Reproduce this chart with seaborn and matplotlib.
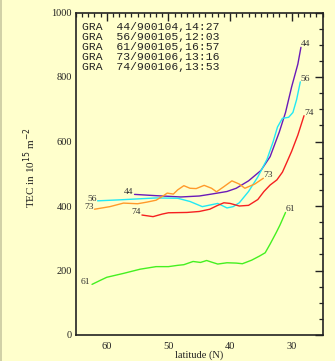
import numpy as np
import pandas as pd
import matplotlib
matplotlib.use("Agg")
import matplotlib.pyplot as plt
from matplotlib.ticker import MultipleLocator
import seaborn as sns

# ---- data ----
lat_44 = [55.5, 52.0, 48.0, 45.0, 43.0, 40.5, 39.0, 37.0, 35.0, 33.5, 32.0, 31.0, 30.0, 29.0, 28.5]
tec_44 = [436, 432, 428, 431, 437, 445, 455, 478, 510, 553, 630, 690, 770, 840, 892]

lat_56 = [61.5, 58.0, 55.0, 52.0, 48.5, 46.5, 44.5, 43.0, 42.0, 40.5, 39.5, 38.5, 37.0, 35.5, 34.0, 33.0, 32.3, 31.5, 30.5, 29.8, 29.2, 28.6]
tec_56 = [416, 419, 422, 425, 424, 414, 398, 404, 408, 394, 398, 410, 445, 490, 545, 600, 645, 672, 675, 690, 730, 785]

lat_61 = [62.4, 61.0, 60.0, 57.3, 54.6, 52.0, 50.0, 48.5, 47.5, 46.0, 44.8, 43.8, 43.0, 42.0, 40.5, 39.0, 38.0, 36.5, 35.2, 34.3, 33.5, 32.5, 31.9, 31.0]
tec_61 = [157, 170, 179, 191, 204, 212, 212, 216, 218, 228, 225, 231, 226, 220, 224, 223, 221, 232, 245, 255, 282, 318, 341, 380]

lat_73 = [62.0, 59.5, 57.3, 55.0, 53.5, 52.0, 50.8, 50.2, 49.2, 48.5, 47.5, 46.5, 45.5, 44.2, 43.0, 42.2, 41.0, 39.7, 38.5, 37.6, 36.0, 34.6]
tec_73 = [390, 398, 409, 407, 412, 418, 432, 440, 437, 450, 463, 455, 454, 464, 455, 444, 460, 478, 468, 455, 468, 486]

lat_74 = [54.3, 52.5, 51.0, 50.0, 47.0, 45.0, 43.3, 42.0, 41.0, 40.0, 38.5, 37.0, 35.5, 34.5, 33.5, 32.4, 31.5, 30.8, 30.0, 29.0, 28.0]
tec_74 = [372, 367, 375, 379, 380, 383, 390, 402, 410, 408, 400, 402, 420, 445, 465, 481, 505, 535, 570, 620, 680]

passes = ["44", "56", "61", "73", "74"]
legend_lines = ["GRA  44/900104,14:27", "GRA  56/900105,12:03", "GRA  61/900105,16:57",
                "GRA  73/900106,13:16", "GRA  74/900106,13:53"]
x_ticks = [60, 50, 40, 30]
y_ticks = [0, 200, 400, 600, 800, 1000]

colors = {"44": "#6a1ab8", "56": "#22e8f4", "61": "#44f020", "73": "#ff9a2a", "74": "#f52020"}

series = {"44": (lat_44, tec_44), "56": (lat_56, tec_56), "61": (lat_61, tec_61),
          "73": (lat_73, tec_73), "74": (lat_74, tec_74)}
rows = []
for p in passes:
    la, te = series[p]
    for i, (a, b) in enumerate(zip(la, te)):
        rows.append({"pass": p, "lat": a, "tec": b, "order": i})
df = pd.DataFrame(rows)

sns.set_theme(style="white")
bg = "#ffffcc"
plt.rcParams["font.family"] = ["Liberation Serif", "DejaVu Serif"]

fig = plt.figure(figsize=(3.35, 3.61), dpi=100, facecolor=bg)
ax = fig.add_axes([76 / 335, 1 - 335 / 361, 246.5 / 335, 322.5 / 361])
ax.set_facecolor(bg)

sns.lineplot(data=df, x="lat", y="tec", hue="pass", palette=colors, units="pass",
             estimator=None, sort=False, linewidth=1.0, legend=False, ax=ax)

ax.set_xlim(65, 25)
ax.set_ylim(0, 1000)
ax.set_xticks(x_ticks)
ax.set_yticks(y_ticks)
ax.xaxis.set_minor_locator(MultipleLocator(1))
ax.yaxis.set_minor_locator(MultipleLocator(50))
ax.tick_params(which="both", direction="in", top=True, right=True, colors="#222222",
               labelcolor="#222222", labelsize=7.5)
ax.tick_params(which="major", length=5.5, width=1.0)
ax.tick_params(which="minor", length=3, width=0.9)
ax.tick_params(axis="x", which="major", pad=5)
ax.tick_params(axis="y", which="major", pad=3)
for s in ax.spines.values():
    s.set_color("#222222")
    s.set_linewidth(1.2)

ax.set_xlabel("latitude (N)", fontsize=7.5, color="#222222", labelpad=-0.5)
ax.set_ylabel(r"TEC in 10$^{15}$ m$^{-2}$", fontsize=8, color="#222222", labelpad=16)
ax.yaxis.set_label_coords(-0.155, 0.52)

# legend text block
for i, t in enumerate(legend_lines):
    ypx = 27.3 + i * 9.85
    ax.text(0.024, 1 - (ypx - 12.5) / 322.5, t, transform=ax.transAxes,
            family=["Liberation Mono", "DejaVu Sans Mono"], fontsize=8.2,
            color="#222222", va="center", ha="left")

# pass labels at line ends
lab_kw = dict(textcoords="offset pixels", fontsize=6.8, color="#333333", va="center")
for p in passes:
    la, te = series[p]
    ax.annotate(p, (la[-1], te[-1]), xytext=(0, 3), ha="left", **lab_kw)
left_off = {"44": (-1, 2), "56": (-1, 2), "61": (-2, 2), "73": (-1, 2), "74": (-1, 3)}
for p in passes:
    la, te = series[p]
    ax.annotate(p, (la[0], te[0]), xytext=left_off[p], ha="right", **lab_kw)

fig.add_artist(plt.Line2D([0.5 / 335, 0.5 / 335], [0, 1], color="#c8c8a0", lw=1.2,
                          transform=fig.transFigure))

fig.savefig("out.png", dpi=100, facecolor=bg)
